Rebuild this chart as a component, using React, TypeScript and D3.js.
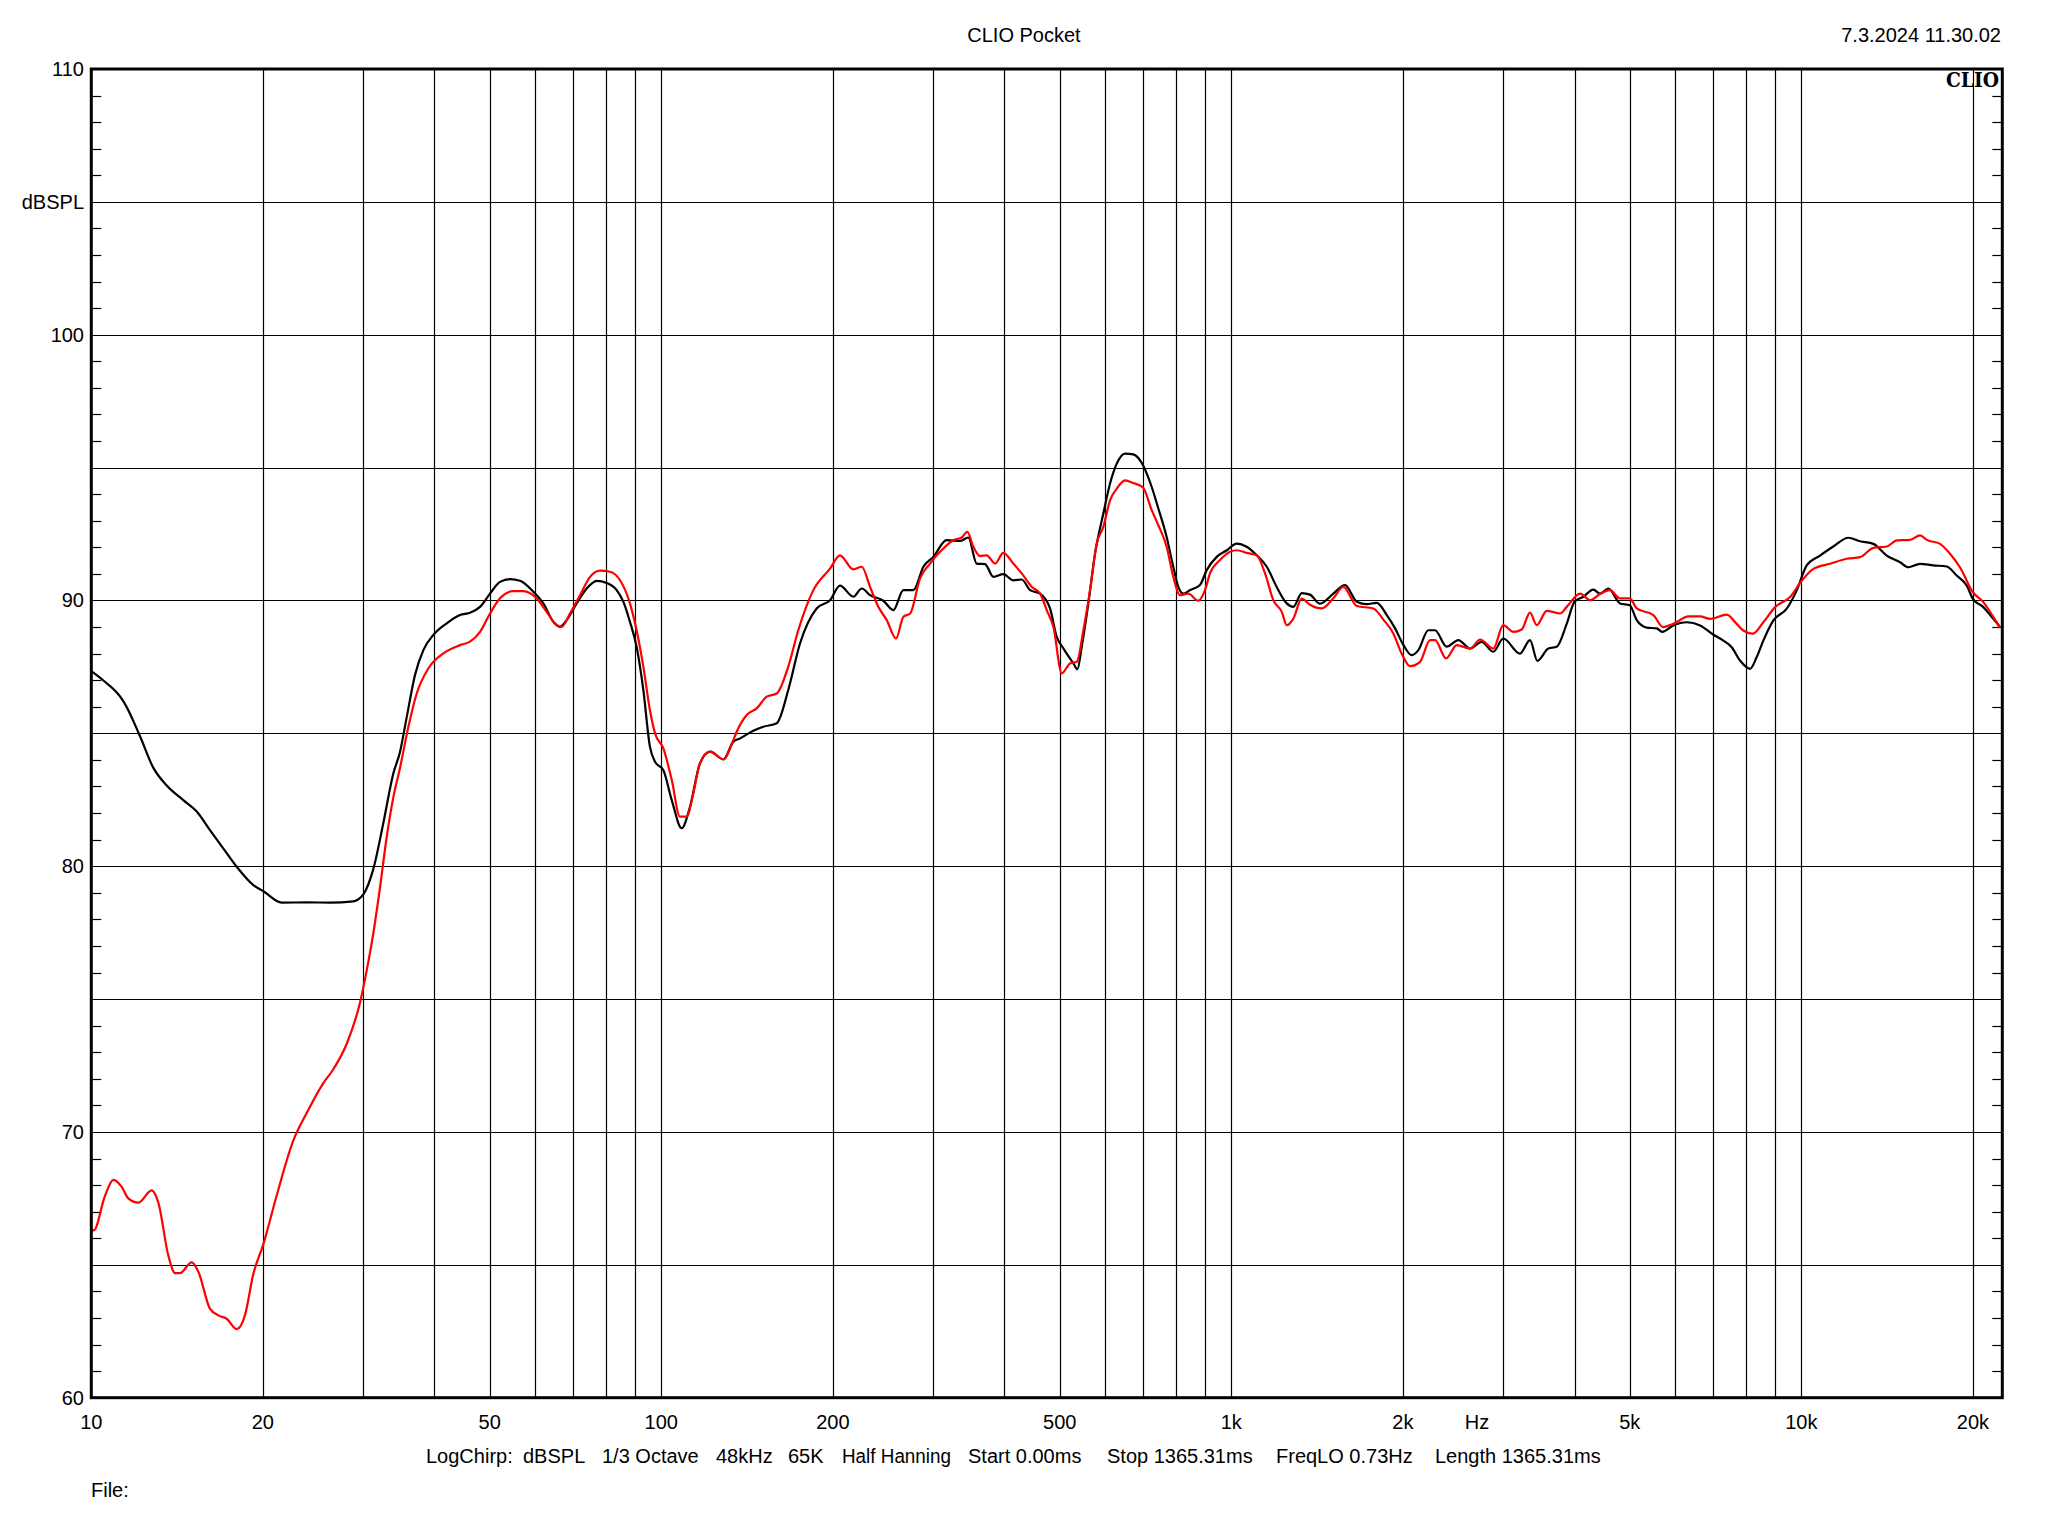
import { scaleLog, scaleLinear, line, curveMonotoneX, range } from 'd3';

// black trace
const blackFreq = [
  10, 10.5, 11.23, 11.46, 12.17, 12.85, 13.56, 14.5, 15.31, 16.15, 17.04, 17.99, 19.24, 20.04, 21.58, 23.87, 26.23, 28.82,
  30.01, 31.24, 32.53, 33.88, 34.8, 35.75, 36.98, 38.24, 39.81, 42.03, 44.35, 46.17, 48.08, 50.06, 52.12, 54.27, 56.5,
  59.63, 62.09, 64.65, 66.41, 68.23, 71.05, 73.98, 77.03, 80.2, 83.5, 85.8, 88.1, 90.5, 93, 95.5, 97.5, 100.8, 104.3,
  108.6, 112.3, 116.9, 121.8, 128.5, 133.8, 137.4, 145, 151, 159.4, 167, 175.1, 187.3, 197.7, 205.8, 217.2, 224.7, 232.4,
  245.2, 255.3, 265.9, 276.8, 288.3, 300, 316.7, 334.2, 345.6, 357.5, 369.8, 382.4, 398.1, 414.5, 428.9, 443.6, 461.9,
  480.8, 494, 507.4, 528.3, 536.9, 546.5, 561.3, 576.7, 596.3, 612.7, 629.5, 651, 673, 700, 725, 744.7, 770.1, 791,
  807.2, 823.7, 846.2, 881, 905.2, 942.8, 982, 1022, 1064, 1108, 1154, 1201, 1251, 1285, 1329, 1374, 1431, 1510, 1583,
  1660, 1728, 1800, 1874, 1938, 2000, 2073, 2129, 2216, 2277, 2387, 2502, 2624, 2750, 2882, 3000, 3210, 3342, 3443, 3598,
  3723, 3877, 4000, 4146, 4315, 4434, 4585, 4808, 5000, 5143, 5356, 5576, 5700, 5963, 6297, 6643, 7000, 7297, 7548, 7806,
  8128, 8350, 8577, 8932, 9428, 9816, 10220, 10785, 11380, 12090, 12680, 13380, 14120, 14900, 15400, 16160, 17040, 17990,
  18730, 19510, 20000, 20860, 21720, 22310,
];
const blackDb = [
  87.34, 86.99, 86.39, 86.1, 84.9, 83.7, 83.04, 82.49, 82.06, 81.36, 80.67, 79.98, 79.29, 79.06, 78.63, 78.64, 78.63, 78.68,
  78.94, 79.89, 81.62, 83.5, 84.3, 85.6, 87.2, 88.13, 88.7, 89.14, 89.45, 89.54, 89.76, 90.26, 90.7, 90.8, 90.74,
  90.33, 89.89, 89.2, 89.01, 89.26, 89.89, 90.45, 90.74, 90.66, 90.39, 89.95, 89.2, 88.26, 86.63, 84.5, 83.93, 83.62, 82.49,
  81.43, 82.24, 83.87, 84.31, 84.02, 84.69, 84.81, 85.1, 85.25, 85.38, 86.63, 88.38, 89.7, 90.01, 90.56, 90.14, 90.45, 90.2,
  89.99, 89.64, 90.39, 90.39, 91.27, 91.64, 92.27, 92.24, 92.37, 91.39, 91.37, 90.89, 90.99, 90.76, 90.79, 90.39, 90.26,
  89.7, 88.63, 88.2, 87.63, 87.41, 88.26, 89.89, 91.77, 93.27, 94.4, 95.15, 95.53, 95.5, 95.09, 94.27, 93.46, 92.39, 91.27,
  90.51, 90.26, 90.39, 90.58, 91.14, 91.64, 91.89, 92.14, 92.02, 91.7, 91.27, 90.51, 89.89, 89.76, 90.28, 90.22, 89.88, 90.26, 90.58,
  89.95, 89.86, 89.91, 89.45, 88.95, 88.36, 87.94, 88.13, 88.88, 88.88, 88.26, 88.51, 88.19, 88.44, 88.07, 88.57, 88, 88.51, 87.73, 88.19,
  88.26, 89.13, 89.95, 90.14, 90.41, 90.26, 90.45, 89.89, 89.82, 89.26, 88.98, 88.95, 88.82, 89.06, 89.18, 89.06, 88.72, 88.49, 88.24, 87.74,
  87.43, 87.87, 88.49, 89.25, 89.69, 90.38, 91.32, 91.69, 92.03, 92.36, 92.23, 92.13, 91.69, 91.44, 91.25, 91.38, 91.32, 91.28,
  90.94, 90.56, 90.06, 89.75, 89.31, 89.0,
];

// red trace
const redFreq = [
  10, 10.1, 10.57, 10.93, 11.3, 11.61, 12.09, 12.76, 13.11, 13.65, 14.03, 14.31, 15, 15.41, 16.15, 16.7, 17.28, 17.99, 18.6,
  19.24, 20.04, 21.14, 22.62, 23.87, 25.53, 26.58, 28.05, 29.61, 30.42, 31.24, 32.1, 32.98, 33.88, 34.8, 36, 37.23, 39.01,
  41.46, 44.35, 46.17, 48.08, 50.06, 52.12, 55, 57.26, 60.44, 62.93, 65.53, 66.87, 69.15, 72.02, 74.99, 78.08, 81.28,
  84.65, 88.1, 90.5, 93, 95.5, 97.5, 100.8, 104.3, 107.8, 110.8, 113.8, 116.9, 121.8, 128.5, 133.8, 135.6, 141.2, 147,
  153.1, 159.4, 167, 173.9, 184.8, 197.7, 205.8, 217.2, 224.7, 232.4, 240.3, 248.6, 258.1, 265.9, 273.2, 284.4, 296.1,
  308.3, 325.3, 336.5, 344.2, 352.7, 362.3, 372.3, 385.1, 398.1, 414.5, 428.9, 446.6, 461.9, 474.4, 487.3, 504.2, 521.2,
  535.6, 550.1, 565.1, 580.6, 596.3, 612.7, 629.5, 651, 673, 700, 725, 744.7, 770.1, 791, 812.8, 840.6, 875.2, 899.1,
  917.5, 955.4, 994.7, 1022, 1064, 1108, 1146, 1185, 1226, 1251, 1285, 1329, 1374, 1441, 1510, 1572, 1660, 1775, 1848,
  1924, 1990, 2058, 2143, 2232, 2277, 2381, 2486, 2624, 2732, 2882, 3000, 3124, 3232, 3342, 3434, 3575, 3773, 3877, 4092,
  4259, 4434, 4617, 4808, 5000, 5143, 5500, 5720, 5963, 6340, 6643, 6917, 7398, 7702, 7911, 8215, 8577, 8993, 9555,
  10020, 10500, 11230, 12010, 12680, 13380, 14120, 14710, 15510, 16160, 16600, 17510, 18230, 18980, 20000, 20860, 21720,
  22310,
];
const redDb = [
  66.3, 66.3, 67.6, 68.2, 67.94, 67.5, 67.34, 67.8, 67.34, 65.35, 64.69, 64.69, 65.09, 64.74, 63.35, 63.1, 62.97, 62.58, 63.1,
  64.65, 65.78, 67.6, 69.68, 70.71, 71.84, 72.36, 73.31, 74.87, 76.08, 77.47, 79.2, 81.1, 82.6, 83.7, 85.25, 86.5, 87.44,
  88.01, 88.32, 88.45, 88.82, 89.51, 90.08, 90.35, 90.35, 90.08, 89.57, 89.07, 89.01, 89.51, 90.2, 90.89, 91.12, 91.08,
  90.76, 89.89, 88.88, 87.51, 85.88, 85, 84.44, 83.25, 81.87, 81.87, 82.74, 83.87, 84.31, 84.02, 84.75, 85.06, 85.69, 85.94,
  86.38, 86.5, 87.51, 88.88, 90.39, 91.2, 91.7, 91.17, 91.27, 90.51, 89.76, 89.26, 88.57, 89.39, 89.51, 90.83, 91.39,
  91.83, 92.27, 92.37, 92.58, 92.02, 91.67, 91.7, 91.39, 91.79, 91.39, 91.02, 90.51, 90.26, 89.64, 89.01, 87.26, 87.63,
  87.69, 88.88, 90.39, 92.14, 92.77, 93.77, 94.21, 94.52, 94.42, 94.25, 93.4, 92.83, 92.02, 90.89, 90.2, 90.26, 89.99, 90.39,
  91.02, 91.52, 91.83, 91.89, 91.79, 91.7, 91.02, 90.01, 89.57, 89.07, 89.32, 90.07, 89.84, 89.7, 90.08, 90.51, 89.79, 89.7, 89.28,
  88.76, 88, 87.53, 87.69, 88.51, 88.51, 87.82, 88.32, 88.19, 88.53, 88.19, 89.07, 88.82, 88.91, 89.54, 89.07, 89.61, 89.51, 89.76, 90.26,
  90.01, 90.24, 90.39, 90.08, 90.08, 89.7, 89.45, 89.0, 89.12, 89.4, 89.4, 89.31, 89.47, 89.12, 88.87, 88.75, 89.18, 89.75, 90.13,
  90.75, 91.19, 91.38, 91.57, 91.63, 91.98, 92.03, 92.26, 92.28, 92.45, 92.28, 92.13, 91.76, 91.25, 90.31, 89.94, 89.38,
  88.97,
];

const yLabelValues = [110, 100, 90, 80, 70, 60];
const xLabelValues = [10, 20, 50, 100, 200, 500, 1000, 2000, 5000, 10000, 20000];
const xLabelText = ['10', '20', '50', '100', '200', '500', '1k', '2k', '5k', '10k', '20k'];
const footerItems = ['LogChirp:', 'dBSPL', '1/3 Octave', '48kHz', '65K', 'Half Hanning', 'Start 0.00ms', 'Stop 1365.31ms', 'FreqLO 0.73Hz', 'Length 1365.31ms'];
const footerX = [426, 523, 602, 716, 788, 842, 968, 1107, 1276, 1435];

const W = 2048;
const H = 1536;
const L = 91.3, R = 2002.3, T = 69, B = 1397.7;
const FONT = '"Liberation Sans", Arial, sans-serif';

export default function App() {
  const x = scaleLog().domain([10, 22520]).range([L, R]);
  const y = scaleLinear().domain([60, 110]).range([B, T]);

  const xGrid: number[] = [];
  for (let dec = 10; dec <= 10000; dec *= 10) {
    for (let n = 1; n <= 9; n++) {
      const f = n * dec;
      if (f > 10 && f < 22520) xGrid.push(f);
    }
  }
  const yGrid = range(65, 110, 5);
  const minor = range(61, 110, 1).filter(v => v % 5 !== 0);

  const mk = (fs: number[], ds: number[]) =>
    line<number>().x((_, i) => x(fs[i])).y((_, i) => y(ds[i])).curve(curveMonotoneX)(fs) ?? '';

  return (
    <svg width={W} height={H} style={{ position: 'absolute', left: 0, top: 0, background: '#fff' }} fontFamily={FONT}>
      <rect x={0} y={0} width={W} height={H} fill="#fff" />
      <text x={1024} y={42} fontSize={20} textAnchor="middle">CLIO Pocket</text>
      <text x={2001} y={42} fontSize={20} textAnchor="end">7.3.2024 11.30.02</text>

      {/* grid */}
      {xGrid.map(f => (
        <line key={'gx' + f} x1={Math.round(x(f)) + 0.5} x2={Math.round(x(f)) + 0.5} y1={T} y2={B} stroke="#000" strokeWidth={1.2} />
      ))}
      {yGrid.map(v => (
        <line key={'gy' + v} x1={L} x2={R} y1={Math.round(y(v)) + 0.5} y2={Math.round(y(v)) + 0.5} stroke="#000" strokeWidth={1.2} />
      ))}
      {minor.map(v => (
        <g key={'mt' + v}>
          <line x1={L} x2={L + 10} y1={Math.round(y(v)) + 0.5} y2={Math.round(y(v)) + 0.5} stroke="#000" strokeWidth={1.2} />
          <line x1={R - 10} x2={R} y1={Math.round(y(v)) + 0.5} y2={Math.round(y(v)) + 0.5} stroke="#000" strokeWidth={1.2} />
        </g>
      ))}

      <text x={1999} y={87} fontSize={21} fontWeight="bold" textAnchor="end" fontFamily='"DejaVu Serif", serif' textLength={53} lengthAdjust="spacingAndGlyphs">CLIO</text>

      {/* traces */}
      <path d={mk(blackFreq, blackDb)} fill="none" stroke="#000" strokeWidth={2.2} />
      <path d={mk(redFreq, redDb)} fill="none" stroke="#ff0000" strokeWidth={2.2} />

      <rect x={L} y={T} width={R - L} height={B - T} fill="none" stroke="#000" strokeWidth={3} />

      {/* y labels */}
      {yLabelValues.map(v => (
        <text key={'yl' + v} x={84} y={y(v) + 7} fontSize={20} textAnchor="end">{v}</text>
      ))}
      <text x={84} y={y(105) + 7} fontSize={20} textAnchor="end">dBSPL</text>

      {/* x labels */}
      {xLabelValues.map((f, i) => (
        <text key={'xl' + f} x={x(f)} y={1429} fontSize={20} textAnchor="middle">{xLabelText[i]}</text>
      ))}
      <text x={1477} y={1429} fontSize={20} textAnchor="middle">Hz</text>

      {footerItems.map((s, i) => (
        <text key={'ft' + i} x={footerX[i]} y={1463} fontSize={20}
          {...(s === 'Half Hanning' ? { textLength: 109, lengthAdjust: 'spacingAndGlyphs' } : {})}>{s}</text>
      ))}
      <text x={91} y={1497} fontSize={20}>File:</text>
    </svg>
  );
}
